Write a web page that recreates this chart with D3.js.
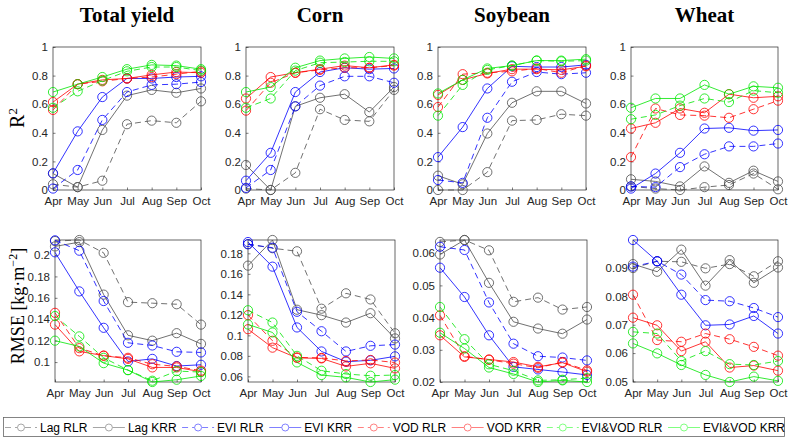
<!DOCTYPE html>
<html><head><meta charset="utf-8">
<script src="https://cdn.jsdelivr.net/npm/d3@7"></script>
<style>
body{margin:0;background:#fff;}
svg{display:block;}
</style></head><body>
<svg id="chart" width="789" height="438"></svg>
<script>
const months = ["Apr","May","Jun","Jul","Aug","Sep","Oct"];
const seriesNames = ["Lag RLR","Lag KRR","EVI RLR","EVI KRR","VOD RLR","VOD KRR","EVI&VOD RLR","EVI&VOD KRR"];
const cropTitles = ["Total yield","Corn","Soybean","Wheat"];

// R2 values, one row per series (order as seriesNames)
const r2Total = [
  [0.04,0.02,0.065,0.46,0.485,0.47,0.62],
  [0.115,0.02,0.42,0.66,0.70,0.68,0.71],
  [0.01,0.14,0.49,0.685,0.735,0.74,0.755],
  [0.117,0.41,0.65,0.78,0.78,0.79,0.795],
  [0.56,0.74,0.76,0.78,0.79,0.81,0.83],
  [0.615,0.74,0.77,0.78,0.805,0.825,0.82],
  [0.575,0.69,0.765,0.83,0.86,0.86,0.835],
  [0.685,0.74,0.79,0.845,0.875,0.87,0.845]
];
const r2Corn = [
  [0.01,0.0,0.12,0.565,0.49,0.48,0.70],
  [0.175,0.0,0.585,0.645,0.67,0.545,0.72],
  [0.015,0.14,0.585,0.73,0.795,0.795,0.75],
  [0.065,0.26,0.685,0.825,0.855,0.845,0.85],
  [0.555,0.75,0.82,0.84,0.855,0.855,0.87],
  [0.64,0.79,0.82,0.845,0.87,0.855,0.875],
  [0.575,0.64,0.835,0.89,0.895,0.9,0.90],
  [0.685,0.72,0.855,0.905,0.92,0.93,0.92]
];
const r2Soybean = [
  [0.0,0.0,0.125,0.485,0.49,0.53,0.52],
  [0.10,0.04,0.395,0.61,0.69,0.69,0.605],
  [0.07,0.05,0.505,0.757,0.825,0.81,0.82],
  [0.23,0.44,0.71,0.865,0.86,0.86,0.875],
  [0.58,0.81,0.82,0.83,0.85,0.82,0.87],
  [0.665,0.77,0.815,0.845,0.845,0.84,0.865],
  [0.52,0.735,0.84,0.87,0.905,0.90,0.905],
  [0.675,0.77,0.85,0.87,0.905,0.905,0.915]
];
const r2Wheat = [
  [0.025,0.01,0.0,0.02,0.035,0.115,0.005],
  [0.075,0.06,0.025,0.165,0.05,0.135,0.06],
  [0.025,0.02,0.16,0.25,0.305,0.305,0.325],
  [0.01,0.115,0.26,0.43,0.435,0.415,0.42],
  [0.23,0.57,0.525,0.52,0.505,0.565,0.625],
  [0.43,0.47,0.57,0.54,0.67,0.645,0.655],
  [0.495,0.525,0.59,0.64,0.615,0.695,0.68],
  [0.575,0.64,0.64,0.735,0.67,0.725,0.715]
];
// RMSE values [kg m-2]
const rmseTotal = [
  [0.213,0.214,0.202,0.156,0.155,0.154,0.135],
  [0.208,0.212,0.163,0.125,0.12,0.127,0.117],
  [0.2137,0.204,0.157,0.118,0.1155,0.1096,0.109],
  [0.2025,0.166,0.132,0.1006,0.103,0.0963,0.0975],
  [0.146,0.113,0.106,0.104,0.098,0.096,0.092],
  [0.135,0.11,0.106,0.103,0.095,0.095,0.091],
  [0.143,0.124,0.104,0.0925,0.0826,0.0916,0.0907],
  [0.12,0.1146,0.099,0.0925,0.0814,0.0835,0.087]
];
const rmseCorn = [
  [0.189,0.185,0.182,0.126,0.141,0.135,0.102],
  [0.168,0.193,0.125,0.1197,0.1125,0.1216,0.097],
  [0.1888,0.1855,0.123,0.104,0.0843,0.0898,0.091],
  [0.191,0.167,0.1077,0.0843,0.0743,0.0756,0.0795],
  [0.1197,0.0947,0.0785,0.078,0.075,0.076,0.0735],
  [0.106,0.088,0.078,0.0775,0.0697,0.0727,0.0678],
  [0.1245,0.1125,0.08,0.0655,0.0623,0.0606,0.0613],
  [0.1106,0.1028,0.0736,0.0613,0.059,0.0545,0.0568]
];
const rmseSoybean = [
  [0.0635,0.0641,0.0609,0.0449,0.0462,0.0425,0.0433],
  [0.0596,0.0641,0.0508,0.0387,0.0366,0.035,0.0394],
  [0.062,0.061,0.0447,0.0319,0.028,0.0276,0.0267],
  [0.0555,0.0464,0.0345,0.0247,0.0239,0.0231,0.0222],
  [0.0407,0.028,0.0269,0.0257,0.0244,0.0262,0.0236],
  [0.0345,0.0278,0.027,0.0262,0.0247,0.026,0.0232],
  [0.0433,0.0333,0.0255,0.0235,0.0205,0.0207,0.0212],
  [0.0353,0.0304,0.0245,0.0225,0.0200,0.0205,0.0200]
];
const rmseWheat = [
  [0.09,0.0924,0.0922,0.0899,0.0914,0.0871,0.0924],
  [0.0914,0.0887,0.0965,0.0838,0.0928,0.0848,0.0902],
  [0.0905,0.0924,0.0877,0.0787,0.0783,0.0759,0.0727],
  [0.0999,0.0924,0.0806,0.0698,0.0701,0.0731,0.0669],
  [0.0806,0.0646,0.064,0.0669,0.0649,0.0622,0.0591],
  [0.0725,0.0698,0.0607,0.064,0.0549,0.0556,0.0538],
  [0.0675,0.0669,0.0572,0.0607,0.0561,0.0558,0.0572],
  [0.0634,0.0599,0.0558,0.0523,0.0498,0.0517,0.0502]
];

const r2Ticks = [0,0.2,0.4,0.6,0.8,1];
const rmseTicksTotal = [0.1,0.12,0.14,0.16,0.18,0.2];
const rmseTicksCorn = [0.06,0.08,0.1,0.12,0.14,0.16,0.18];
const rmseTicksSoybean = [0.02,0.03,0.04,0.05,0.06];
const rmseTicksWheat = [0.05,0.06,0.07,0.08,0.09];

// styles
const seriesColors = ["#4d4d4d","#4d4d4d","#0000ff","#0000ff","#ff0000","#ff0000","#00e600","#00e600"];
const legendColors = ["#a6a6a6","#a6a6a6","#8080ff","#8080ff","#ff8080","#ff8080","#80ff80","#80ff80"];
const seriesDashed = [true,false,true,false,true,false,true,false];

const svg = d3.select("#chart");
const axisColor = "#262626";
const tickFont = "'Liberation Sans', Arial, Helvetica, sans-serif";
const serif = "'Liberation Serif', 'Times New Roman', serif";

const topRow = {y0:47, y1:190, lefts:[53,246,438,631], rights:[201,394,586,778]};
const botRow = {y0:240, y1:382, lefts:[55,248,440,633], rights:[201,395,587,778]};

const panels = [
  {row:topRow, col:0, data:r2Total, ticks:r2Ticks, domain:[0,1]},
  {row:topRow, col:1, data:r2Corn, ticks:r2Ticks, domain:[0,1]},
  {row:topRow, col:2, data:r2Soybean, ticks:r2Ticks, domain:[0,1]},
  {row:topRow, col:3, data:r2Wheat, ticks:r2Ticks, domain:[0,1]},
  {row:botRow, col:0, data:rmseTotal, ticks:rmseTicksTotal},
  {row:botRow, col:1, data:rmseCorn, ticks:rmseTicksCorn},
  {row:botRow, col:2, data:rmseSoybean, ticks:rmseTicksSoybean},
  {row:botRow, col:3, data:rmseWheat, ticks:rmseTicksWheat}
];

panels.forEach(p => {
  const L = p.row.lefts[p.col], R = p.row.rights[p.col];
  const T = p.row.y0, B = p.row.y1;
  const x = d3.scalePoint().domain(months).range([L,R]);
  const dom = p.domain || d3.extent(p.data.flat());
  const y = d3.scaleLinear().domain(dom).range([B,T]);
  const g = svg.append("g");

  const ax = g.append("g").attr("transform",`translate(0,${B})`)
    .call(d3.axisBottom(x).tickSize(-2.5).tickPadding(7));
  const ay = g.append("g").attr("transform",`translate(${L},0)`)
    .call(d3.axisLeft(y).tickValues(p.ticks).tickFormat(d3.format("~g")).tickSize(-2.5).tickPadding(5));
  [ax,ay].forEach(a=>{
    a.select(".domain").remove();
    a.selectAll("line").attr("stroke",axisColor).attr("stroke-width",0.6);
    a.selectAll("text").attr("fill",axisColor).style("font-family",tickFont).style("font-size","11.5px");
  });
  g.append("rect").attr("x",L).attr("y",T).attr("width",R-L).attr("height",B-T)
    .attr("fill","none").attr("stroke",axisColor).attr("stroke-width",0.7);

  const line = d3.line().x((d,i)=>x(months[i])).y(d=>y(d));
  p.data.forEach((vals,si)=>{
    g.append("path").datum(vals).attr("d",line)
      .attr("fill","none").attr("stroke",seriesColors[si]).attr("stroke-width",0.8)
      .attr("stroke-dasharray",seriesDashed[si]?"6,4":null);
    g.selectAll(null).data(vals).enter().append("circle")
      .attr("cx",(d,i)=>x(months[i])).attr("cy",d=>y(d)).attr("r",4.6)
      .attr("fill","none").attr("stroke",seriesColors[si]).attr("stroke-width",0.8);
  });

  if (p.row===topRow) {
    svg.append("text").attr("x",(L+R)/2).attr("y",22).attr("text-anchor","middle")
      .style("font-family",serif).style("font-weight","bold").style("font-size","21px")
      .attr("fill","#000").text(cropTitles[p.col]);
  }
});

svg.append("text").attr("transform","translate(24,118) rotate(-90)").attr("text-anchor","middle")
  .style("font-family",serif).style("font-size","20px").attr("fill","#000")
  .html('R<tspan dy="-7" font-size="13px">2</tspan>');
svg.append("text").attr("transform","translate(24,306) rotate(-90)").attr("text-anchor","middle")
  .style("font-family",serif).style("font-size","18px").attr("fill","#000")
  .html('RMSE [kg·m<tspan dy="-7" font-size="12px">−2</tspan><tspan dy="7">]</tspan>');

const lg = svg.append("g");
lg.append("rect").attr("x",3.5).attr("y",417.5).attr("width",781).attr("height",19)
  .attr("fill","#fff").attr("stroke","#666").attr("stroke-width",0.8);
let lx = 5;
seriesNames.forEach((name,si)=>{
  lg.append("line").attr("x1",lx).attr("x2",lx+32).attr("y1",427.5).attr("y2",427.5)
    .attr("stroke",legendColors[si]).attr("stroke-width",1)
    .attr("stroke-dasharray",seriesDashed[si]?"6,4":null);
  lg.append("circle").attr("cx",lx+16).attr("cy",427.5).attr("r",3.5)
    .attr("fill","#fff").attr("stroke",legendColors[si]).attr("stroke-width",1);
  const t = lg.append("text").attr("x",lx+35).attr("y",432).attr("fill","#000")
    .style("font-family",tickFont).style("font-size","12px").text(name);
  lx += 35 + t.node().getComputedTextLength() + 5.5;
});
</script>
</body></html>
